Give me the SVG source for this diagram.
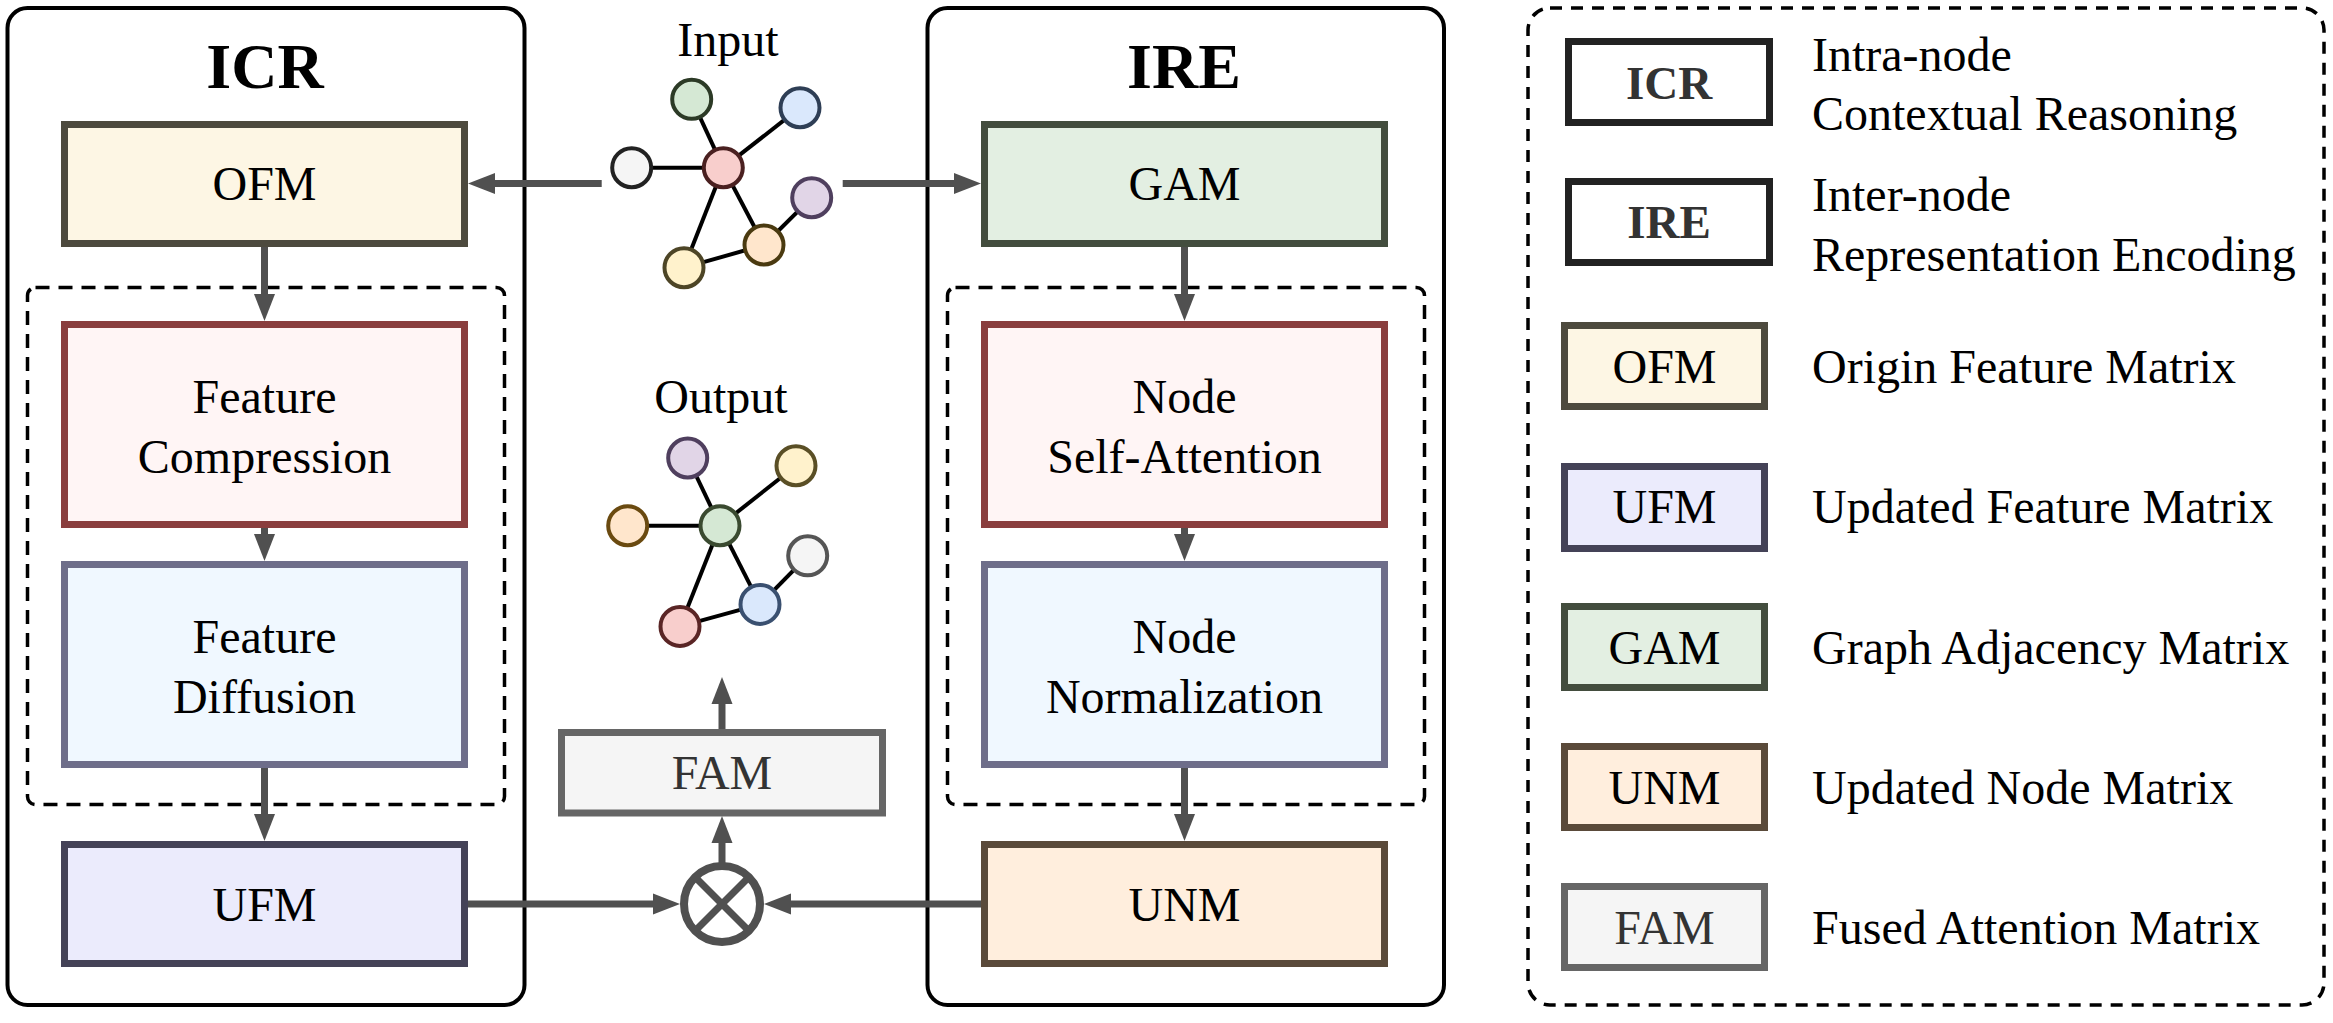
<svg xmlns="http://www.w3.org/2000/svg" width="2333" height="1023" viewBox="0 0 2333 1023">
<style>
  text { font-family: "Liberation Serif", "Times New Roman", serif; fill: #000; }
  .t { font-size: 48px; text-anchor: middle; }
  .title { font-size: 64px; font-weight: bold; text-anchor: middle; }
  .lg { font-size: 48px; text-anchor: start; }
  .lgb { font-size: 47px; font-weight: bold; text-anchor: middle; fill: #333; }
  .outer { fill: none; stroke: #000; stroke-width: 4; }
  .dash { fill: none; stroke: #000; stroke-width: 3.5; stroke-dasharray: 14 9; }
  .box { stroke-width: 7; }
  .ofm { fill: #fdf6e4; stroke: #4d4a3e; }
  .fc { fill: #fff5f5; stroke: #8a3e3e; }
  .fd { fill: #f0f8ff; stroke: #6e6e8a; }
  .ufm { fill: #ebebfc; stroke: #444257; }
  .gam { fill: #e3efe2; stroke: #434d3e; }
  .unm { fill: #ffeedd; stroke: #5a4a3a; }
  .fam { fill: #f5f5f5; stroke: #666; }
  .lgk { fill: #fff; stroke: #222; }
  .conn line { stroke: #505050; stroke-width: 7; marker-end: url(#ah); }
  .edge { stroke: #000; stroke-width: 4; }
  .gn { stroke-width: 4; }
</style>
<defs>
  <marker id="ah" markerUnits="userSpaceOnUse" markerWidth="28" markerHeight="22" refX="0" refY="11" orient="auto">
    <path d="M0,0.5 L27,11 L0,21.5 z" fill="#505050"/>
  </marker>
</defs>

<!-- ICR module -->
<g id="icr-module">
  <rect class="outer" x="7.5" y="8" width="517" height="997" rx="20"/>
  <text class="title" x="265" y="88">ICR</text>
  <rect class="dash" x="27.5" y="287.5" width="477" height="517" rx="8"/>
</g>
<g id="ofm"><rect class="box ofm" x="64.5" y="124.5" width="400" height="119"/><text class="t" x="264.5" y="200">OFM</text></g>
<g id="feature-compression"><rect class="box fc" x="64.5" y="324.5" width="400" height="200"/><text class="t" x="264.5" y="413">Feature</text><text class="t" x="264.5" y="473">Compression</text></g>
<g id="feature-diffusion"><rect class="box fd" x="64.5" y="564.5" width="400" height="200"/><text class="t" x="264.5" y="653">Feature</text><text class="t" x="264.5" y="713">Diffusion</text></g>
<g id="ufm"><rect class="box ufm" x="64.5" y="844.5" width="400" height="119"/><text class="t" x="264.5" y="921">UFM</text></g>

<!-- IRE module -->
<g id="ire-module">
  <rect class="outer" x="927.5" y="8" width="516.5" height="997" rx="20"/>
  <text class="title" x="1184" y="88">IRE</text>
  <rect class="dash" x="947.5" y="287.5" width="477" height="517" rx="8"/>
</g>
<g id="gam"><rect class="box gam" x="984.5" y="124.5" width="400" height="119"/><text class="t" x="1184.5" y="200">GAM</text></g>
<g id="node-self-attention"><rect class="box fc" x="984.5" y="324.5" width="400" height="200"/><text class="t" x="1184.5" y="413">Node</text><text class="t" x="1184.5" y="473">Self-Attention</text></g>
<g id="node-normalization"><rect class="box fd" x="984.5" y="564.5" width="400" height="200"/><text class="t" x="1184.5" y="653">Node</text><text class="t" x="1184.5" y="713">Normalization</text></g>
<g id="unm"><rect class="box unm" x="984.5" y="844.5" width="400" height="119"/><text class="t" x="1184.5" y="921">UNM</text></g>

<!-- Input graph -->
<g id="input-graph">
  <text class="t" x="728" y="56">Input</text>
  <line class="edge" x1="631.7" y1="167.7" x2="723.3" y2="167.7"/>
  <line class="edge" x1="691.7" y1="99.3" x2="723.3" y2="167.7"/>
  <line class="edge" x1="800" y1="107.7" x2="723.3" y2="167.7"/>
  <line class="edge" x1="723.3" y1="167.7" x2="684" y2="267.7"/>
  <line class="edge" x1="723.3" y1="167.7" x2="764" y2="245"/>
  <line class="edge" x1="764" y1="245" x2="811.7" y2="197.7"/>
  <line class="edge" x1="684" y1="267.7" x2="764" y2="245"/>
  <circle class="gn" cx="691.7" cy="99.3" r="19.5" fill="#d5e8d4" stroke="#2c3a26"/>
  <circle class="gn" cx="800" cy="107.7" r="19.5" fill="#dae8fc" stroke="#2e3e55"/>
  <circle class="gn" cx="631.7" cy="167.7" r="19.5" fill="#f5f5f5" stroke="#222"/>
  <circle class="gn" cx="723.3" cy="167.7" r="19.5" fill="#f8cecc" stroke="#4a2020"/>
  <circle class="gn" cx="811.7" cy="197.7" r="19.5" fill="#e1d5e7" stroke="#4f3f5e"/>
  <circle class="gn" cx="764" cy="245" r="19.5" fill="#ffe6cc" stroke="#4a3a10"/>
  <circle class="gn" cx="684" cy="267.7" r="19.5" fill="#fff2cc" stroke="#4d4526"/>
</g>

<!-- Output graph -->
<g id="output-graph">
  <text class="t" x="721" y="413">Output</text>
  <line class="edge" x1="687.7" y1="458" x2="720" y2="525.7"/>
  <line class="edge" x1="796" y1="465.7" x2="720" y2="525.7"/>
  <line class="edge" x1="627.7" y1="525.7" x2="720" y2="525.7"/>
  <line class="edge" x1="720" y1="525.7" x2="680" y2="626.4"/>
  <line class="edge" x1="720" y1="525.7" x2="760" y2="604.4"/>
  <line class="edge" x1="760" y1="604.4" x2="807.7" y2="555.8"/>
  <line class="edge" x1="680" y1="626.4" x2="760" y2="604.4"/>
  <circle class="gn" cx="687.7" cy="458" r="19.5" fill="#e1d5e7" stroke="#4f3f5e"/>
  <circle class="gn" cx="796" cy="465.7" r="19.5" fill="#fff2cc" stroke="#5a4f26"/>
  <circle class="gn" cx="627.7" cy="525.7" r="19.5" fill="#ffe6cc" stroke="#6a4a10"/>
  <circle class="gn" cx="720" cy="525.7" r="19.5" fill="#d5e8d4" stroke="#3a4a30"/>
  <circle class="gn" cx="807.7" cy="555.8" r="19.5" fill="#f5f5f5" stroke="#555"/>
  <circle class="gn" cx="760" cy="604.4" r="19.5" fill="#dae8fc" stroke="#3a5070"/>
  <circle class="gn" cx="680" cy="626.4" r="19.5" fill="#f8cecc" stroke="#5a2525"/>
</g>

<g id="fam"><rect class="box fam" x="561.5" y="732.5" width="321" height="80.5"/><text class="t" x="722" y="789" style="fill:#333">FAM</text></g>

<g id="multiply">
  <circle cx="722" cy="904" r="38" fill="#fff" stroke="#505050" stroke-width="8"/>
  <line x1="695" y1="877" x2="749" y2="931" stroke="#505050" stroke-width="7"/>
  <line x1="749" y1="877" x2="695" y2="931" stroke="#505050" stroke-width="7"/>
</g>

<!-- connectors -->
<g id="connectors" class="conn">
  <line x1="601.7" y1="183.5" x2="495" y2="183.5"/>
  <line x1="842.7" y1="183.5" x2="954" y2="183.5"/>
  <line x1="264.5" y1="247" x2="264.5" y2="294"/>
  <line x1="264.5" y1="528" x2="264.5" y2="534"/>
  <line x1="264.5" y1="768" x2="264.5" y2="814"/>
  <line x1="1184.5" y1="247" x2="1184.5" y2="294"/>
  <line x1="1184.5" y1="528" x2="1184.5" y2="534"/>
  <line x1="1184.5" y1="768" x2="1184.5" y2="814"/>
  <line x1="468" y1="904" x2="653" y2="904"/>
  <line x1="981" y1="904" x2="791" y2="904"/>
  <line x1="722" y1="864" x2="722" y2="843"/>
  <line x1="722" y1="729" x2="722" y2="704"/>
</g>

<!-- Legend -->
<g id="legend">
  <rect x="1528" y="8" width="796" height="997" rx="22" fill="none" stroke="#000" stroke-width="3.5" stroke-dasharray="12 9"/>
  <g id="legend-icr"><rect class="box lgk" x="1568.5" y="41.5" width="201" height="81"/><text class="lgb" x="1669" y="99">ICR</text>
    <text class="lg" x="1812" y="71">Intra-node</text><text class="lg" x="1812" y="130">Contextual Reasoning</text></g>
  <g id="legend-ire"><rect class="box lgk" x="1568.5" y="181.5" width="201" height="81"/><text class="lgb" x="1669" y="238">IRE</text>
    <text class="lg" x="1812" y="211">Inter-node</text><text class="lg" x="1812" y="271">Representation Encoding</text></g>
  <g id="legend-ofm"><rect class="box ofm" x="1564.5" y="325.5" width="200" height="81"/><text class="t" x="1664.5" y="383">OFM</text>
    <text class="lg" x="1812" y="383">Origin Feature Matrix</text></g>
  <g id="legend-ufm"><rect class="box ufm" x="1564.5" y="466.5" width="200" height="82"/><text class="t" x="1664.5" y="523">UFM</text>
    <text class="lg" x="1812" y="523">Updated Feature Matrix</text></g>
  <g id="legend-gam"><rect class="box gam" x="1564.5" y="606.5" width="200" height="81"/><text class="t" x="1664.5" y="664">GAM</text>
    <text class="lg" x="1812" y="664">Graph Adjacency Matrix</text></g>
  <g id="legend-unm"><rect class="box unm" x="1564.5" y="746.5" width="200" height="81"/><text class="t" x="1664.5" y="804">UNM</text>
    <text class="lg" x="1812" y="804">Updated Node Matrix</text></g>
  <g id="legend-fam"><rect class="box fam" x="1564.5" y="886.5" width="200" height="81"/><text class="t" x="1664.5" y="944" style="fill:#333">FAM</text>
    <text class="lg" x="1812" y="944">Fused Attention Matrix</text></g>
</g>
</svg>
